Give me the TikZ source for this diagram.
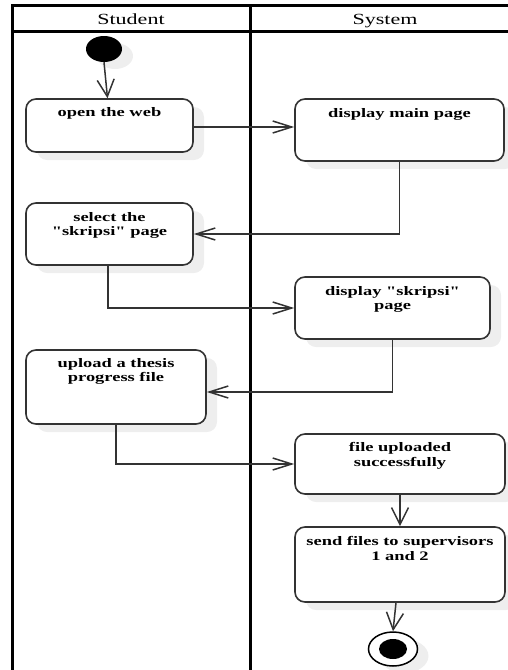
\documentclass[tikz,border=0pt]{standalone}
\usepackage{fontspec}
\setmainfont{Liberation Serif}[FakeStretch=1.42, Ligatures=TeXOff]
\usetikzlibrary{arrows.meta,shapes.geometric,shadows}
\definecolor{edge}{HTML}{333333}
\definecolor{shade}{HTML}{EEEEEE}
\tikzset{
  activity/.style={draw=edge, line width=1.6pt, fill=white, rounded corners=10pt,
    inner sep=0pt, drop shadow={shadow xshift=11pt, shadow yshift=-8pt, fill=shade, opacity=1}},
  acttext/.style={font=\bfseries\fontsize{13}{14.5}\selectfont, align=center,
    anchor=north, inner sep=0pt},
  lanetitle/.style={font=\fontsize{15.5}{18}\selectfont, anchor=base, inner sep=0pt},
  lane/.style={line width=3pt, black},
  flow/.style={draw=edge, line width=1.5pt},
  harr/.style={-{Straight Barb[length=19pt,width=12pt,line width=1.5pt]}},
  varr/.style={-{Straight Barb[length=17pt,width=17pt,line width=1.5pt]}},
  pseudo/.style={ellipse, inner sep=0pt,
    drop shadow={shadow xshift=11pt, shadow yshift=-7pt, fill=shade, opacity=1}},
}
\begin{document}
\begin{tikzpicture}[x=1pt,y=-1pt]
\useasboundingbox (0,0) rectangle (508,670);
\clip (0,0) rectangle (508,670);

% swimlane frame
\draw[lane] (12,680) -- (12,5) -- (512,5);
\draw[lane] (12,31) -- (512,31);
\draw[lane] (250,5) -- (250,680);
\node[lanetitle] (laneA) at (131,24) {Student};
\node[lanetitle] (laneB) at (385,24) {System};

% initial node
\node[pseudo, fill=black, minimum width=36pt, minimum height=26pt] (start) at (104,49) {};

% activities
\node[activity, minimum width=167pt, minimum height=53pt] (open) at (109.5,125.5) {};
\node[acttext] (openT) at ([yshift=-9pt]open.north) {open the web};

\node[activity, minimum width=209pt, minimum height=62pt] (main) at (399.5,130) {};
\node[acttext] (mainT) at ([yshift=-10pt]main.north) {display main page};

\node[activity, minimum width=167pt, minimum height=62pt] (select) at (109.5,234) {};
\node[acttext] (selectT) at ([yshift=-10pt]select.north) {select the\\"skripsi" page};

\node[activity, minimum width=195pt, minimum height=62pt] (skripsi) at (392.5,308) {};
\node[acttext] (skripsiT) at ([yshift=-10pt]skripsi.north) {display "skripsi"\\page};

\node[activity, minimum width=180pt, minimum height=74pt] (upload) at (116,387) {};
\node[acttext] (uploadT) at ([yshift=-9pt]upload.north) {upload a thesis\\progress file};

\node[activity, minimum width=210pt, minimum height=60pt] (uploaded) at (400,464) {};
\node[acttext] (uploadedT) at ([yshift=-9pt]uploaded.north) {file uploaded\\successfully};

\node[activity, minimum width=210pt, minimum height=75pt] (send) at (400,564.5) {};
\node[acttext] (sendT) at ([yshift=-10pt]send.north) {send files to supervisors\\1 and 2};

% final node
\node[pseudo, draw=black, line width=1.5pt, fill=white, minimum width=49pt, minimum height=34pt] (end) at (393,649) {};
\fill (end.center) ellipse [x radius=14pt, y radius=10pt];

% control flows
\draw[flow, varr] (start.south) -- ([xshift=-2pt]open.north);
\draw[flow, harr] ([yshift=-1.5pt]open.east) -- ([yshift=-1.5pt]open.east -| main.west);
\draw[flow, harr] (main.south) |- (select.east);
\draw[flow, harr] ([xshift=-1.5pt]select.south) |- (skripsi.west);
\draw[flow, harr] (skripsi.south) |- ([yshift=-5pt]upload.east);
\draw[flow, harr] (upload.south) |- (uploaded.west);
\draw[flow, varr] (uploaded.south) -- (send.north);
\draw[flow, varr] ([xshift=-4pt]send.south) -- (end.north);
\end{tikzpicture}
\end{document}
